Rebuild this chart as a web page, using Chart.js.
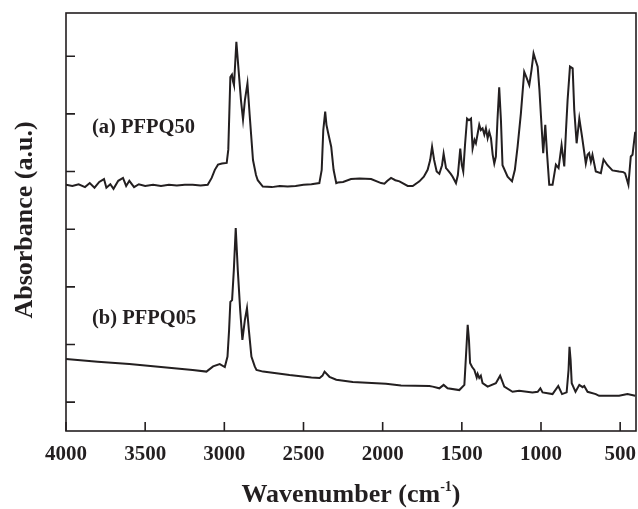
<!DOCTYPE html>
<html>
<head>
<meta charset="utf-8">
<script src="https://cdn.jsdelivr.net/npm/chart.js@4.4.1/dist/chart.umd.min.js"></script>
<style>
    body { margin: 0; background: #fff; }
    canvas { display: block; }
</style>
</head>
<body>
<canvas id="chart" width="638" height="509"></canvas>
<script>
// wavenumber ticks on the x axis, unlabeled absorbance ticks on the y axis
const xTicks = [500, 1000, 1500, 2000, 2500, 3000, 3500, 4000];
const yTicks = [1, 2, 3, 4, 5, 6, 7];

// (a) PFPQ50
const wnA = [
    4000, 3960, 3920, 3880, 3850, 3820, 3790, 3760, 3745, 3720, 3700, 3670, 3640, 3620, 3600, 3570, 3540, 3500,
    3450, 3400, 3350, 3300, 3250, 3200, 3150, 3105, 3080, 3060, 3040, 3015, 2985, 2975, 2962, 2952, 2945, 2939,
    2924, 2910, 2895, 2882, 2870, 2854, 2840, 2819, 2800, 2789, 2757, 2700, 2650, 2600, 2550, 2500, 2450, 2400,
    2385, 2375, 2363, 2355, 2346, 2325, 2310, 2293, 2283, 2250, 2200, 2146, 2073, 2010, 1989, 1970, 1947, 1920,
    1894, 1842, 1810, 1768, 1740, 1716, 1700, 1688, 1675, 1659, 1642, 1625, 1615, 1600, 1590, 1570, 1558, 1537,
    1525, 1510, 1500, 1491, 1480, 1467, 1455, 1442, 1432, 1420, 1411, 1390, 1380, 1369, 1358, 1348, 1337, 1327,
    1316, 1305, 1295, 1285, 1275, 1264, 1253, 1243, 1211, 1183, 1165, 1148, 1127, 1106, 1090, 1074, 1060, 1047,
    1035, 1021, 1010, 1000, 986, 973, 962, 948, 927, 906, 889, 870, 853, 842, 832, 817, 800, 790, 775, 758, 741,
    717, 706, 696, 685, 675, 654, 622, 605, 580, 549, 507, 480, 469, 448, 433, 422, 405
];
const absA = [
    4.77, 4.75, 4.78, 4.73, 4.80, 4.72, 4.82, 4.87, 4.72, 4.78, 4.70, 4.84, 4.89, 4.75, 4.84, 4.73, 4.78, 4.75,
    4.77, 4.75, 4.77, 4.76, 4.77, 4.77, 4.76, 4.77, 4.89, 5.03, 5.12, 5.14, 5.15, 5.38, 6.64, 6.68, 6.56, 6.50,
    7.25, 6.76, 6.24, 5.90, 6.24, 6.53, 5.98, 5.20, 4.94, 4.85, 4.74, 4.73, 4.75, 4.74, 4.75, 4.77, 4.78, 4.80,
    5.03, 5.72, 6.04, 5.81, 5.69, 5.43, 5.03, 4.80, 4.81, 4.82, 4.87, 4.88, 4.87, 4.80, 4.79, 4.84, 4.89, 4.85,
    4.83, 4.75, 4.75, 4.83, 4.91, 5.03, 5.20, 5.43, 5.20, 5.00, 4.96, 5.11, 5.31, 5.06, 5.03, 4.96, 4.91, 4.80,
    4.94, 5.40, 5.11, 5.00, 5.46, 5.92, 5.89, 5.92, 5.40, 5.55, 5.49, 5.81, 5.72, 5.75, 5.64, 5.75, 5.58, 5.69,
    5.58, 5.29, 5.14, 5.26, 5.89, 6.46, 5.89, 5.11, 4.91, 4.83, 5.03, 5.43, 6.01, 6.73, 6.62, 6.50, 6.76, 7.05,
    6.94, 6.82, 6.42, 5.95, 5.32, 5.81, 5.32, 4.77, 4.77, 5.12, 5.06, 5.46, 5.09, 5.72, 6.24, 6.82, 6.79, 6.07,
    5.49, 5.92, 5.61, 5.14, 5.29, 5.32, 5.17, 5.29, 5.00, 4.97, 5.21, 5.11, 5.02, 5.00, 4.99, 4.97, 4.77, 5.26,
    5.29, 5.69
];

// (b) PFPQ05
const wnB = [
    4000, 3800, 3600, 3400, 3200, 3113, 3071, 3029, 2997, 2980, 2970, 2962, 2951, 2940, 2928, 2915, 2900, 2886,
    2870, 2857, 2845, 2829, 2808, 2797, 2755, 2588, 2450, 2398, 2380, 2367, 2336, 2293, 2189, 1979, 1884, 1705,
    1684, 1642, 1615, 1590, 1516, 1484, 1470, 1463, 1455, 1448, 1435, 1421, 1406, 1400, 1390, 1380, 1369, 1337,
    1285, 1258, 1232, 1180, 1138, 1054, 1021, 1004, 990, 927, 891, 867, 838, 826, 820, 813, 806, 782, 758, 737,
    727, 706, 654, 633, 507, 454, 405
];
const absB = [
    1.75, 1.70, 1.66, 1.61, 1.56, 1.53, 1.62, 1.66, 1.61, 1.79, 2.25, 2.74, 2.77, 3.29, 4.02, 3.29, 2.60, 2.08,
    2.43, 2.63, 2.25, 1.79, 1.62, 1.56, 1.53, 1.47, 1.43, 1.42, 1.46, 1.53, 1.44, 1.39, 1.35, 1.32, 1.29, 1.28,
    1.27, 1.24, 1.30, 1.24, 1.21, 1.30, 1.99, 2.34, 2.08, 1.68, 1.61, 1.56, 1.43, 1.49, 1.42, 1.46, 1.33, 1.27,
    1.33, 1.46, 1.27, 1.18, 1.20, 1.17, 1.18, 1.24, 1.17, 1.14, 1.28, 1.14, 1.17, 1.56, 1.96, 1.73, 1.33, 1.18,
    1.30, 1.26, 1.28, 1.18, 1.14, 1.11, 1.11, 1.14, 1.11
];

const seriesLabels = ['(a) PFPQ50', '(b) PFPQ05'];

const ink = '#231f20';
const serif = '"Liberation Serif", "Times New Roman", serif';

function toPoints(xs, ys) {
    return xs.map((x, i) => ({ x: x, y: ys[i] }));
}

// frame, inward ticks, axis titles and curve labels
const decorations = {
    id: 'decorations',
    afterDraw(chart) {
        const ctx = chart.ctx;
        const area = chart.chartArea;
        const xScale = chart.scales.x;
        const yScale = chart.scales.y;

        ctx.save();
        ctx.strokeStyle = ink;
        ctx.lineWidth = 1.6;
        ctx.strokeRect(area.left, area.top, area.right - area.left, area.bottom - area.top);

        ctx.beginPath();
        xTicks.forEach(v => {
            const px = xScale.getPixelForValue(v);
            ctx.moveTo(px, area.bottom);
            ctx.lineTo(px, area.bottom - 9);
        });
        yTicks.forEach(v => {
            const py = yScale.getPixelForValue(v);
            ctx.moveTo(area.left, py);
            ctx.lineTo(area.left + 9, py);
        });
        ctx.stroke();

        ctx.fillStyle = ink;

        // curve labels
        ctx.font = 'bold 20.5px ' + serif;
        ctx.textAlign = 'left';
        ctx.textBaseline = 'middle';
        ctx.fillText(seriesLabels[0], xScale.getPixelForValue(3836), yScale.getPixelForValue(5.76));
        ctx.fillText(seriesLabels[1], xScale.getPixelForValue(3836), yScale.getPixelForValue(2.44));

        // x title with superscript
        const mainFont = 'bold 26px ' + serif;
        const supFont = 'bold 14px ' + serif;
        const partA = 'Wavenumber (cm';
        const partSup = '-1';
        const partB = ')';
        ctx.font = mainFont;
        const wA = ctx.measureText(partA).width;
        const wB = ctx.measureText(partB).width;
        ctx.font = supFont;
        const wS = ctx.measureText(partSup).width;
        const total = wA + wS + wB;
        let cx = (area.left + area.right) / 2 - total / 2;
        const base = 502;
        ctx.textAlign = 'left';
        ctx.textBaseline = 'alphabetic';
        ctx.font = mainFont;
        ctx.fillText(partA, cx, base);
        cx += wA;
        ctx.font = supFont;
        ctx.fillText(partSup, cx, base - 11);
        cx += wS;
        ctx.font = mainFont;
        ctx.fillText(partB, cx, base);

        // y title
        ctx.translate(32, 220);
        ctx.rotate(-Math.PI / 2);
        ctx.textAlign = 'center';
        ctx.font = mainFont;
        ctx.fillText('Absorbance (a.u.)', 0, 0);
        ctx.restore();
    }
};

new Chart(document.getElementById('chart'), {
    type: 'line',
    data: {
        datasets: [
            {
                label: seriesLabels[0],
                data: toPoints(wnA, absA),
                borderColor: ink,
                borderWidth: 2,
                pointRadius: 0,
                tension: 0,
                fill: false
            },
            {
                label: seriesLabels[1],
                data: toPoints(wnB, absB),
                borderColor: ink,
                borderWidth: 2,
                pointRadius: 0,
                tension: 0,
                fill: false
            }
        ]
    },
    options: {
        responsive: false,
        animation: false,
        layout: {
            padding: { top: 13, right: 2, left: 0, bottom: 0 }
        },
        plugins: {
            legend: { display: false },
            tooltip: { enabled: false }
        },
        scales: {
            x: {
                type: 'linear',
                min: 400,
                max: 4000,
                reverse: true,
                afterBuildTicks: axis => {
                    axis.ticks = xTicks.map(v => ({ value: v }));
                },
                afterFit: axis => {
                    axis.height = 78;
                },
                grid: { drawOnChartArea: false, drawTicks: false },
                border: { display: false },
                ticks: {
                    color: ink,
                    padding: 11,
                    maxRotation: 0,
                    autoSkip: false,
                    font: { family: serif, size: 21, weight: 'bold' },
                    callback: v => String(v)
                }
            },
            y: {
                type: 'linear',
                min: 0.5,
                max: 7.75,
                afterBuildTicks: axis => {
                    axis.ticks = yTicks.map(v => ({ value: v }));
                },
                afterFit: axis => {
                    axis.width = 66;
                },
                grid: { drawOnChartArea: false, drawTicks: false },
                border: { display: false },
                ticks: { display: false }
            }
        }
    },
    plugins: [decorations]
});
</script>
</body>
</html>
